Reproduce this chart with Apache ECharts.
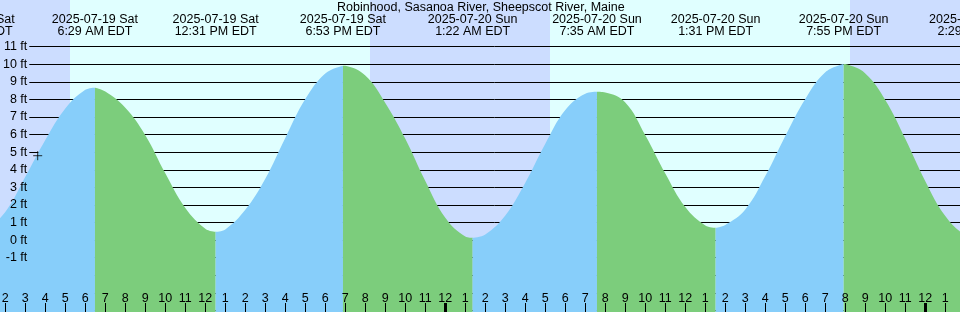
<!DOCTYPE html>
<html><head><meta charset="utf-8">
<script src="https://cdn.jsdelivr.net/npm/echarts@6/dist/echarts.min.js"></script>
<style>html,body{margin:0;padding:0;background:#e0ffff}#c{width:960px;height:312px}</style>
</head><body><div id="c"></div><script>
const chartTitle = 'Robinhood, Sasanoa River, Sheepscot River, Maine';
// tide extremes (hours since 2025-07-19 00:00 EDT)
const extremeTimes   = [0.32, 6.483, 12.517, 18.883, 25.367, 31.583, 37.517, 43.917, 50.483];
const extremeHeights = [0.30, 8.67, 0.47, 9.92, 0.13, 8.44, 0.70, 10.02, 0.20];
const extremeDates   = ['2025-07-19 Sat','2025-07-19 Sat','2025-07-19 Sat','2025-07-19 Sat','2025-07-20 Sun','2025-07-20 Sun','2025-07-20 Sun','2025-07-20 Sun','2025-07-21 Mon'];
const extremeClock   = ['12:19 AM EDT','6:29 AM EDT','12:31 PM EDT','6:53 PM EDT','1:22 AM EDT','7:35 AM EDT','1:31 PM EDT','7:55 PM EDT','2:29 AM EDT'];
// hourly heights
const hourTimes = [1,2,3,4,5,6,7,8,9,10,11,12,13,14,15,16,17,18,19,20,21,22,23,24,25,26,27,28,29,30,31,32,33,34,35,36,37,38,39,40,41,42,43,44,45,46,47,48,49,50];
const hourHeights = [0.6,1.6,3.6,5.7,7.49,8.55,8.45,7.53,5.97,3.8,1.83,0.65,0.6,1.72,3.49,5.81,8.02,9.48,9.91,9.36,7.8,5.76,3.36,1.27,0.21,0.32,1.4,3.26,5.48,7.4,8.33,8.40,7.83,5.97,3.79,1.88,0.83,0.86,1.74,3.64,5.92,8.03,9.55,10.01,9.48,7.97,5.76,3.35,1.37,0.3];
// night periods
const nightStarts = [-4, 20.235, 44.235];
const nightEnds   = [5.235, 29.235, 56];
const midnightTicks = [0, 24, 48];
const footTicks = [-1,0,1,2,3,4,5,6,7,8,9,10,11];
const nowTime = 3.62, nowHeight = 4.8;

const FONT = 'Liberation Sans';
const FS = 12.5;
const riseColor = '#87cefa', fallColor = '#7ccd7c', nightColor = '#ccddff', dayColor = '#e0ffff';

const series = [];
series.push({
  type: 'line', xAxisIndex: 0, yAxisIndex: 0, data: [[-4, -5]], showSymbol: false,
  lineStyle: {width: 0}, silent: true, z: 0,
  markArea: {silent: true, z: 1, itemStyle: {color: nightColor},
    data: nightStarts.map((s, i) => [{xAxis: s}, {xAxis: nightEnds[i]}])}
});
for (let i = 0; i < extremeTimes.length - 1; i++) {
  const t0 = extremeTimes[i], t1 = extremeTimes[i + 1];
  const pts = [[t0, extremeHeights[i]]];
  hourTimes.forEach((t, k) => { if (t > t0 && t < t1) pts.push([t, hourHeights[k]]); });
  pts.push([t1, extremeHeights[i + 1]]);
  const rising = extremeHeights[i + 1] > extremeHeights[i];
  series.push({
    type: 'line', xAxisIndex: 0, yAxisIndex: 0, data: pts, showSymbol: false, smooth: 0.4,
    lineStyle: {width: 0}, z: 3, silent: true,
    areaStyle: {color: rising ? riseColor : fallColor, opacity: 1, origin: 'start'}
  });
}
series.push({
  type: 'scatter', xAxisIndex: 0, yAxisIndex: 0, data: [[nowTime, nowHeight]], z: 6, silent: true,
  symbol: 'path://M0,5L10,5M5,0L5,10', symbolSize: 9,
  itemStyle: {color: 'none', borderColor: '#000', borderWidth: 1}
});

function hourLabel(v) { const h = ((Math.round(v) % 12) + 12) % 12; return String(h === 0 ? 12 : h); }
function extremeLabel(v) {
  let best = 0;
  extremeTimes.forEach((t, i) => { if (Math.abs(t - v) < Math.abs(extremeTimes[best] - v)) best = i; });
  return extremeDates[best] + '\n' + extremeClock[best];
}

const chart = echarts.init(document.getElementById('c'), null, {renderer: 'canvas'});
chart.setOption({
  animation: false,
  backgroundColor: dayColor,
  textStyle: {fontFamily: FONT},
  title: {text: chartTitle, left: 337, top: 1, padding: 0,
    textStyle: {fontFamily: FONT, fontSize: FS, fontWeight: 'normal', color: '#000'}},
  grid: [
    {left: -114.7, right: -125.3, top: -6.04, bottom: -16, containLabel: false, outerBoundsMode: 'none'},
    {left: 29.3, right: 0, top: 46.7, bottom: -16, containLabel: false, outerBoundsMode: 'none'}
  ],
  xAxis: [
    {type: 'value', gridIndex: 0, min: -4, max: 56, interval: 1, position: 'bottom', offset: -16, z: 5,
      axisLine: {show: false, onZero: false}, splitLine: {show: false},
      axisTick: {show: true, inside: true, length: 9, lineStyle: {color: '#000', width: 1}},
      axisLabel: {show: true, inside: true, margin: 7, formatter: hourLabel, color: '#000', fontFamily: FONT, fontSize: FS, hideOverlap: false}},
    {type: 'value', gridIndex: 1, min: 3.2, max: 49.735, show: false, axisLine: {onZero: false}},
    {type: 'value', gridIndex: 0, min: -4, max: 56, position: 'top', z: 5,
      axisLine: {show: false, onZero: false}, splitLine: {show: false}, axisTick: {show: false},
      axisLabel: {show: true, inside: true, margin: 20.3, customValues: extremeTimes, formatter: extremeLabel,
        color: '#000', fontFamily: FONT, fontSize: FS, lineHeight: 11.5, hideOverlap: false}},
    {type: 'value', gridIndex: 0, min: -4, max: 56, position: 'bottom', offset: -16, z: 5,
      axisLine: {show: false, onZero: false}, splitLine: {show: false},
      axisTick: {show: true, inside: true, length: 9, customValues: midnightTicks, lineStyle: {color: '#000', width: 3}},
      axisLabel: {show: false}}
  ],
  yAxis: [
    {type: 'value', gridIndex: 0, min: -5, max: 14, interval: 1, show: false, axisLine: {onZero: false}},
    {type: 'value', gridIndex: 1, min: -5, max: 11, interval: 1, z: 5, position: 'left',
      axisLine: {show: false, onZero: false}, axisTick: {show: false}, splitLine: {show: false},
      axisLabel: {show: true, margin: 2, color: '#000', fontFamily: FONT, fontSize: FS,
        formatter: v => (footTicks.indexOf(v) >= 0 ? v + ' ft' : '')}},
    {type: 'value', gridIndex: 1, min: -5, max: 11, interval: 1, z: 1.5, position: 'right',
      axisLine: {show: false, onZero: false}, axisTick: {show: false}, axisLabel: {show: false},
      splitLine: {show: true, lineStyle: {color: '#000', width: 1}}}
  ],
  series: series
});
</script></body></html>
